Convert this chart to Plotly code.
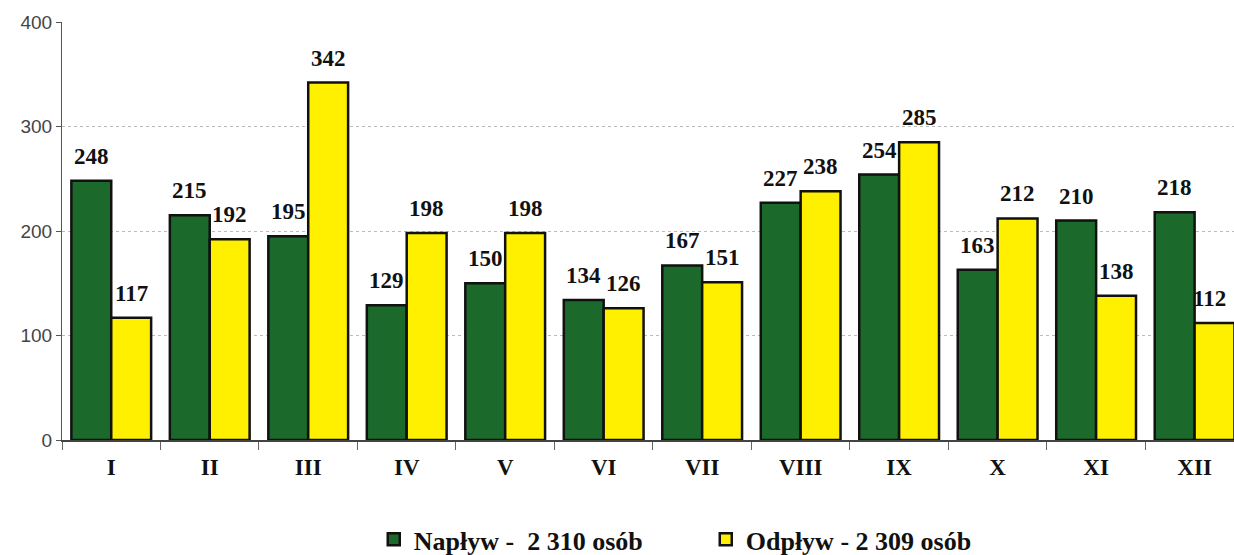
import plotly.graph_objects as go

months = ["I", "II", "III", "IV", "V", "VI", "VII", "VIII", "IX", "X", "XI", "XII"]
naplyw = [248, 215, 195, 129, 150, 134, 167, 227, 254, 163, 210, 218]
odplyw = [117, 192, 342, 198, 198, 126, 151, 238, 285, 212, 138, 112]
name_naplyw = "Napływ -  2 310 osób"
name_odplyw = "Odpływ - 2 309 osób"
y_ticks = [0, 100, 200, 300, 400]

label_font = dict(family="Liberation Serif", size=23, color="#111111", weight="bold")

fig = go.Figure()
fig.add_trace(go.Bar(
    x=months, y=naplyw, name=name_naplyw,
    marker=dict(color="#1b6a2b", line=dict(color="#111111", width=2.5)),
))
fig.add_trace(go.Bar(
    x=months, y=odplyw, name=name_odplyw,
    marker=dict(color="#fff000", line=dict(color="#111111", width=2.5)),
))

annotations = []
for i, m in enumerate(months):
    annotations.append(dict(
        x=m, y=naplyw[i], xref="x", yref="y", text=str(naplyw[i]),
        showarrow=False, xanchor="center", yanchor="bottom",
        xshift=-20, yshift=10, font=label_font,
    ))
    last = i == len(months) - 1
    annotations.append(dict(
        x=m, y=odplyw[i], xref="x", yref="y", text=str(odplyw[i]),
        showarrow=False, xanchor="left" if last else "center", yanchor="bottom",
        xshift=-4 if last else 20, yshift=10, font=label_font,
    ))

fig.update_layout(
    width=1234, height=555,
    margin=dict(l=62, r=0, t=22, b=115),
    paper_bgcolor="white", plot_bgcolor="white",
    barmode="group", bargap=0.19, bargroupgap=0,
    showlegend=True,
    legend=dict(
        orientation="h", x=0.266, xanchor="left",
        yref="container", y=0.028, yanchor="middle",
        font=dict(family="Liberation Serif", size=26, color="#111111", weight="bold"),
        itemwidth=30, entrywidth=287, entrywidthmode="pixels",
        traceorder="normal",
    ),
    annotations=annotations,
)
fig.update_xaxes(
    range=[-0.5, 11.4],
    showline=True, linecolor="#444444", linewidth=1.5,
    ticks="outside", tickson="boundaries", ticklen=8, tickcolor="#666666",
    tickfont=dict(family="Liberation Serif", size=23, color="#111111", weight="bold"),
    ticklabelstandoff=6,
    showgrid=False,
)
fig.update_yaxes(
    range=[0, 400], tickvals=y_ticks,
    showline=True, linecolor="#555555", linewidth=1,
    ticks="outside", ticklen=5, tickcolor="#555555",
    tickfont=dict(family="Liberation Sans", size=19, color="#444444"),
    showgrid=True, gridcolor="#bbbbbb", griddash="dot", gridwidth=1,
    zeroline=False,
)

fig.write_html(
    "out.html",
    config={"displayModeBar": False},
    post_script="document.body.style.margin='0px';document.body.style.overflow='hidden';",
)
